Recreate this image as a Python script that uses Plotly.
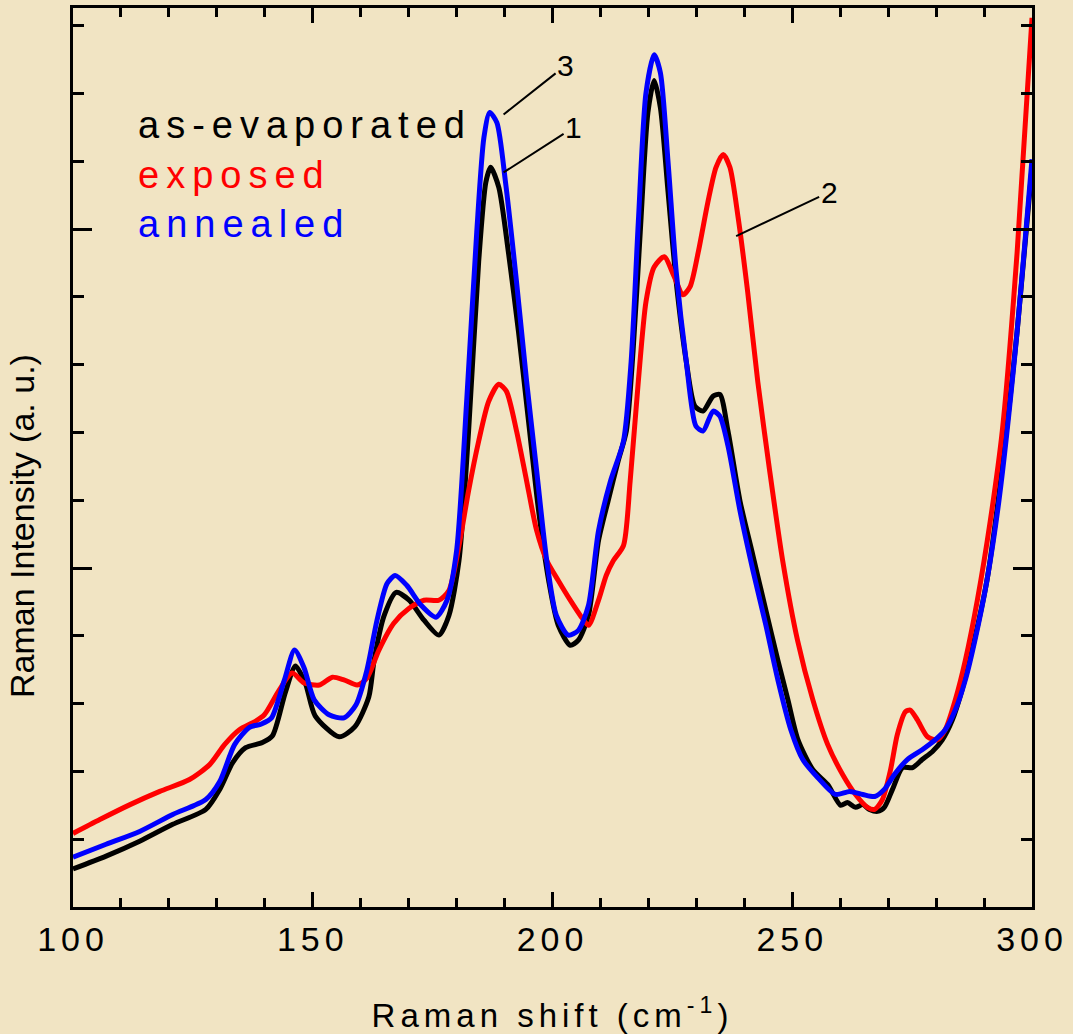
import plotly.graph_objects as go

# ---------------- data (Raman shift, cm-1 ; intensity, a.u.) ----------------
x_black = [100, 106.9, 113.9, 120.8, 127.7, 130.6, 133.3, 136.0, 139.5, 141.6, 144.3, 146.4, 148.5, 150.5,
           155.5, 158.8, 161.7, 162.8, 164.9, 167.4, 170.1, 173.2, 176.3, 178.4, 180.5, 182.5, 184.6, 186.1,
           187.1, 188.8, 190.8, 192.9, 195.0, 197.1, 199.2, 201.2, 203.7, 205.4, 207.5, 209.6, 211.6, 213.7,
           215.4, 216.8, 218.3, 219.9, 221.2, 222.5, 224.1, 225.8, 227.9, 229.7, 231.4, 233.5, 234.9, 236.6,
           239.1, 241.8, 244.5, 247.0, 249.1, 251.2, 254.3, 257.4, 260.1, 261.5, 263.2, 264.7, 266.1, 267.8,
           269.2, 270.9, 273.0, 275.1, 277.1, 279.2, 281.3, 283.4, 285.4, 287.5, 290.6, 293.7, 296.9, 300]
y_black = [0.112, 0.150, 0.194, 0.244, 0.288, 0.347, 0.426, 0.470, 0.485, 0.505, 0.634, 0.711, 0.658, 0.564,
           0.502, 0.532, 0.620, 0.728, 0.860, 0.928, 0.905, 0.846, 0.802, 0.860, 1.022, 1.404, 1.903, 2.138,
           2.182, 2.123, 1.932, 1.698, 1.433, 1.169, 0.963, 0.831, 0.772, 0.787, 0.860, 1.081, 1.198, 1.316,
           1.404, 1.639, 1.991, 2.344, 2.438, 2.358, 2.109, 1.844, 1.609, 1.477, 1.463, 1.507, 1.512, 1.404,
           1.198, 1.037, 0.875, 0.728, 0.611, 0.493, 0.405, 0.361, 0.300, 0.308, 0.294, 0.302, 0.288, 0.282,
           0.294, 0.347, 0.411, 0.411, 0.435, 0.458, 0.493, 0.552, 0.640, 0.758, 0.963, 1.286, 1.698, 2.182]

x_red = [100, 105.6, 111.9, 118.1, 124.3, 128.5, 131.6, 134.7, 137.8, 139.9, 143.0, 145.7, 148.2, 151.4,
         154.1, 156.5, 159.3, 161.3, 163.8, 166.9, 170.1, 173.2, 176.3, 178.4, 180.5, 182.5, 184.6, 186.7,
         188.8, 190.4, 192.5, 194.6, 196.7, 198.8, 201.2, 203.7, 205.8, 207.5, 209.6, 211.2, 212.7, 214.8,
         216.2, 217.9, 219.5, 221.2, 223.3, 225.4, 227.2, 228.7, 230.4, 232.4, 234.1, 235.6, 237.0, 238.7,
         240.7, 242.8, 245.3, 248.0, 251.1, 254.3, 257.4, 260.5, 263.2, 265.7, 267.2, 268.8, 270.5, 271.9,
         273.6, 274.6, 276.1, 278.2, 280.2, 281.9, 284.0, 286.1, 288.6, 291.3, 293.8, 296.9, 300]
y_red = [0.217, 0.258, 0.302, 0.341, 0.376, 0.420, 0.479, 0.523, 0.546, 0.567, 0.640, 0.690, 0.661, 0.655,
         0.678, 0.670, 0.655, 0.675, 0.758, 0.837, 0.881, 0.905, 0.905, 0.934, 1.066, 1.228, 1.374, 1.492,
         1.542, 1.521, 1.404, 1.257, 1.110, 1.022, 0.963, 0.905, 0.860, 0.831, 0.905, 0.978, 1.022, 1.066,
         1.257, 1.551, 1.786, 1.888, 1.918, 1.859, 1.806, 1.830, 1.932, 2.079, 2.182, 2.220, 2.182, 2.035,
         1.815, 1.551, 1.286, 1.022, 0.787, 0.611, 0.479, 0.391, 0.332, 0.294, 0.288, 0.317, 0.405, 0.508,
         0.576, 0.581, 0.552, 0.502, 0.493, 0.523, 0.611, 0.728, 0.905, 1.139, 1.404, 1.932, 2.623]

x_blue = [100, 106.9, 113.9, 120.8, 127.7, 130.6, 133.7, 136.8, 139.3, 141.4, 144.1, 146.2, 148.2, 150.3,
          153.4, 156.5, 159.0, 161.3, 163.4, 165.5, 167.2, 169.6, 172.6, 175.7, 178.0, 180.0, 182.1, 184.2,
          185.7, 186.9, 188.4, 190.2, 192.5, 194.6, 196.7, 198.8, 200.8, 203.3, 205.4, 207.5, 209.6, 212.1,
          214.8, 216.4, 217.9, 219.5, 221.2, 222.5, 224.1, 225.8, 227.9, 229.9, 231.4, 233.5, 234.9, 236.6,
          239.1, 241.8, 244.5, 247.0, 249.7, 252.2, 255.3, 259.0, 262.0, 264.7, 267.2, 269.2, 271.3, 274.0,
          277.1, 279.8, 281.9, 284.0, 286.1, 288.1, 290.6, 293.1, 296.5, 300]
y_blue = [0.147, 0.185, 0.223, 0.273, 0.317, 0.370, 0.479, 0.530, 0.540, 0.558, 0.670, 0.758, 0.705, 0.611,
          0.567, 0.558, 0.596, 0.699, 0.846, 0.954, 0.978, 0.949, 0.890, 0.855, 0.905, 1.051, 1.492, 1.991,
          2.270, 2.344, 2.314, 2.138, 1.844, 1.551, 1.286, 1.022, 0.860, 0.802, 0.816, 0.890, 1.110, 1.257,
          1.374, 1.609, 2.021, 2.402, 2.514, 2.461, 2.197, 1.874, 1.609, 1.419, 1.404, 1.463, 1.448, 1.360,
          1.169, 0.993, 0.831, 0.670, 0.523, 0.435, 0.382, 0.332, 0.341, 0.332, 0.326, 0.347, 0.391, 0.435,
          0.464, 0.493, 0.523, 0.581, 0.670, 0.787, 0.963, 1.198, 1.639, 2.206]

series_names = ["as-evaporated", "exposed", "annealed"]
series_colors = ["#000000", "#FF0000", "#0000FF"]
x_tick_vals = [100, 150, 200, 250, 300]
x_tick_labels = ["100", "150", "200", "250", "300"]
curve_labels = ["1", "2", "3"]
label_targets_x = [189.8, 238.3, 189.8]
label_targets_y = [2.167, 1.979, 2.338]

FONT = "Liberation Sans, Arial, sans-serif"
BG = "#F1E4C3"

def spaced(t, px):
    return f'<span style="letter-spacing:{px}px">{t}</span>'

fig = go.Figure()
for xs, ys, name, col in [(x_black, y_black, series_names[0], series_colors[0]),
                          (x_red, y_red, series_names[1], series_colors[1]),
                          (x_blue, y_blue, series_names[2], series_colors[2])]:
    fig.add_trace(go.Scatter(x=xs, y=ys, mode="lines", name=name,
                             line=dict(color=col, width=5, shape="spline", smoothing=0.7),
                             showlegend=False, cliponaxis=True))

# legend as coloured text
leg_y = [0.870, 0.814, 0.760]
for name, col, yy in zip(series_names, series_colors, leg_y):
    fig.add_annotation(xref="paper", yref="paper", x=0.0655, y=yy, xanchor="left", yanchor="middle",
                       text=spaced(name, 7), showarrow=False,
                       font=dict(family=FONT, size=38, color=col))

# curve number labels with leader lines
offsets = [(70, -45), (93, -44), (62, -49)]
for lab, tx, ty, (axo, ayo) in zip(curve_labels, label_targets_x, label_targets_y, offsets):
    fig.add_annotation(x=tx, y=ty, xref="x", yref="y", text=lab, showarrow=True,
                       arrowhead=0, arrowwidth=2, arrowcolor="black", ax=axo, ay=ayo,
                       font=dict(family=FONT, size=30, color="black"), standoff=0)

# y-axis title (placed like the reference, slightly below the centre)
fig.add_annotation(xref="paper", yref="paper", x=-0.053, y=0.424, xanchor="center", yanchor="middle",
                   text="Raman Intensity (a. u.)", textangle=-90, showarrow=False,
                   font=dict(family=FONT, size=34, color="black"))

axis_common = dict(showline=True, linecolor="black", linewidth=3, mirror="ticks",
                   ticks="inside", tickcolor="black", tickwidth=3, showgrid=False, zeroline=False)

fig.update_xaxes(range=[100, 300], tickmode="array", tickvals=x_tick_vals,
                 ticktext=[spaced(t, 5) for t in x_tick_labels], ticklen=15,
                 minor=dict(dtick=10, tick0=100, ticklen=9, tickwidth=3, tickcolor="black", ticks="inside"),
                 tickfont=dict(family=FONT, size=34, color="black"),
                 title=dict(text=spaced("Raman shift (cm<sup>-1</sup>)", 5), standoff=48,
                            font=dict(family=FONT, size=33, color="black")),
                 **axis_common)
fig.update_yaxes(range=[0, 2.652], tick0=0, dtick=1, ticklen=19, showticklabels=False,
                 minor=dict(dtick=0.2, tick0=0, ticklen=11, tickwidth=3, tickcolor="black", ticks="inside"),
                 **axis_common)

fig.update_layout(width=1073, height=1034, paper_bgcolor=BG, plot_bgcolor=BG,
                  margin=dict(l=73, r=38, t=5, b=126), font=dict(family=FONT))

fig.write_html("out.html")
